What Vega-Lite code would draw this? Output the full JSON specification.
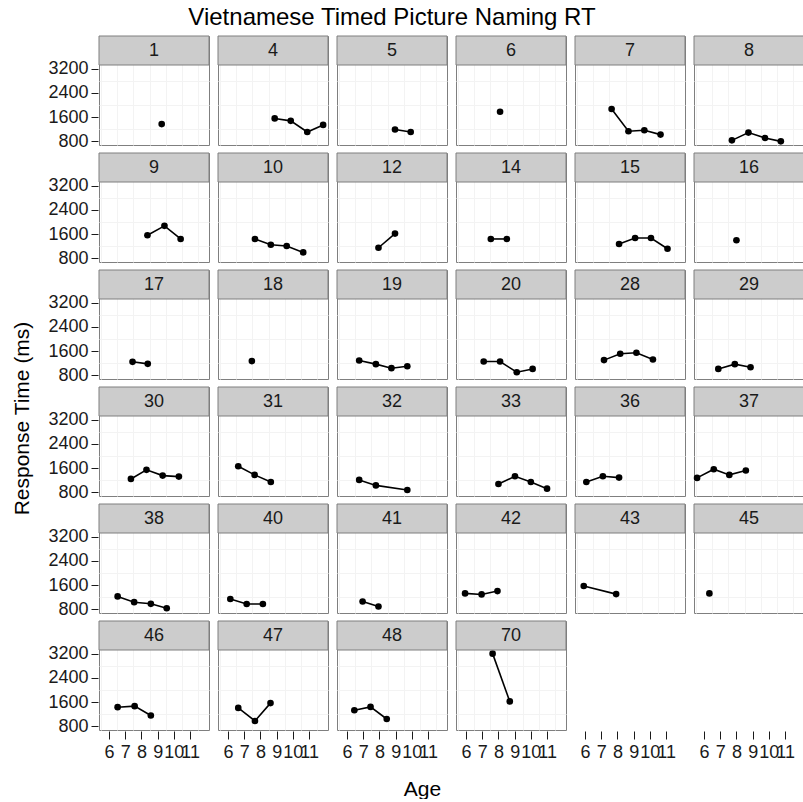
{
  "$schema": "https://vega.github.io/schema/vega-lite/v6.json",
  "padding": {"left": 11, "top": 6, "right": 0, "bottom": 0},
  "title": {"text": "Vietnamese Timed Picture Naming RT", "fontSize": 24, "font": "Liberation Sans", "fontWeight": "normal", "anchor": "middle", "frame": "bounds", "offset": 4, "dx": -16, "color": "#000000"},
  "data": {"values": [
    {"id": 1, "age": 9.25, "rt": 1370},
    {"id": 4, "age": 8.88, "rt": 1557}, {"id": 4, "age": 9.87, "rt": 1477}, {"id": 4, "age": 10.89, "rt": 1110}, {"id": 4, "age": 11.87, "rt": 1343},
    {"id": 5, "age": 8.96, "rt": 1190}, {"id": 5, "age": 9.93, "rt": 1110},
    {"id": 6, "age": 8.1, "rt": 1777},
    {"id": 7, "age": 7.64, "rt": 1867}, {"id": 7, "age": 8.68, "rt": 1133}, {"id": 7, "age": 9.66, "rt": 1167}, {"id": 7, "age": 10.66, "rt": 1023},
    {"id": 8, "age": 7.72, "rt": 833}, {"id": 8, "age": 8.74, "rt": 1090}, {"id": 8, "age": 9.76, "rt": 910}, {"id": 8, "age": 10.74, "rt": 800},
    {"id": 9, "age": 8.37, "rt": 1563}, {"id": 9, "age": 9.42, "rt": 1873}, {"id": 9, "age": 10.42, "rt": 1440},
    {"id": 10, "age": 7.66, "rt": 1440}, {"id": 10, "age": 8.64, "rt": 1250}, {"id": 10, "age": 9.62, "rt": 1207}, {"id": 10, "age": 10.64, "rt": 997},
    {"id": 12, "age": 7.94, "rt": 1150}, {"id": 12, "age": 8.96, "rt": 1617},
    {"id": 14, "age": 7.53, "rt": 1440}, {"id": 14, "age": 8.52, "rt": 1440},
    {"id": 15, "age": 8.1, "rt": 1273}, {"id": 15, "age": 9.09, "rt": 1473}, {"id": 15, "age": 10.07, "rt": 1473}, {"id": 15, "age": 11.09, "rt": 1117},
    {"id": 16, "age": 8.0, "rt": 1397},
    {"id": 17, "age": 7.45, "rt": 1247}, {"id": 17, "age": 8.39, "rt": 1180},
    {"id": 18, "age": 7.47, "rt": 1270},
    {"id": 19, "age": 6.75, "rt": 1290}, {"id": 19, "age": 7.78, "rt": 1170}, {"id": 19, "age": 8.74, "rt": 1037}, {"id": 19, "age": 9.72, "rt": 1100},
    {"id": 20, "age": 7.09, "rt": 1257}, {"id": 20, "age": 8.1, "rt": 1257}, {"id": 20, "age": 9.13, "rt": 903}, {"id": 20, "age": 10.11, "rt": 1013},
    {"id": 28, "age": 7.17, "rt": 1303}, {"id": 28, "age": 8.17, "rt": 1513}, {"id": 28, "age": 9.17, "rt": 1547}, {"id": 28, "age": 10.19, "rt": 1323},
    {"id": 29, "age": 6.88, "rt": 1013}, {"id": 29, "age": 7.9, "rt": 1170}, {"id": 29, "age": 8.87, "rt": 1067},
    {"id": 30, "age": 7.35, "rt": 1243}, {"id": 30, "age": 8.31, "rt": 1543}, {"id": 30, "age": 9.31, "rt": 1353}, {"id": 30, "age": 10.31, "rt": 1320},
    {"id": 31, "age": 6.63, "rt": 1663}, {"id": 31, "age": 7.64, "rt": 1377}, {"id": 31, "age": 8.64, "rt": 1143},
    {"id": 32, "age": 6.75, "rt": 1210}, {"id": 32, "age": 7.78, "rt": 1030}, {"id": 32, "age": 9.72, "rt": 877},
    {"id": 33, "age": 8.0, "rt": 1077}, {"id": 33, "age": 9.02, "rt": 1330}, {"id": 33, "age": 10.0, "rt": 1143}, {"id": 33, "age": 11.0, "rt": 923},
    {"id": 36, "age": 6.08, "rt": 1143}, {"id": 36, "age": 7.1, "rt": 1330}, {"id": 36, "age": 8.1, "rt": 1287},
    {"id": 37, "age": 5.57, "rt": 1277}, {"id": 37, "age": 6.6, "rt": 1563}, {"id": 37, "age": 7.56, "rt": 1377}, {"id": 37, "age": 8.58, "rt": 1520},
    {"id": 38, "age": 6.53, "rt": 1227}, {"id": 38, "age": 7.55, "rt": 1037}, {"id": 38, "age": 8.58, "rt": 983}, {"id": 38, "age": 9.56, "rt": 837},
    {"id": 40, "age": 6.14, "rt": 1143}, {"id": 40, "age": 7.15, "rt": 977}, {"id": 40, "age": 8.15, "rt": 977},
    {"id": 41, "age": 6.96, "rt": 1060}, {"id": 41, "age": 7.94, "rt": 893},
    {"id": 42, "age": 5.94, "rt": 1327}, {"id": 42, "age": 6.96, "rt": 1293}, {"id": 42, "age": 7.94, "rt": 1403},
    {"id": 43, "age": 5.92, "rt": 1570}, {"id": 43, "age": 7.92, "rt": 1303},
    {"id": 45, "age": 6.33, "rt": 1327},
    {"id": 46, "age": 6.53, "rt": 1433}, {"id": 46, "age": 7.58, "rt": 1467}, {"id": 46, "age": 8.58, "rt": 1157},
    {"id": 47, "age": 6.63, "rt": 1410}, {"id": 47, "age": 7.66, "rt": 977}, {"id": 47, "age": 8.62, "rt": 1567},
    {"id": 48, "age": 6.45, "rt": 1333}, {"id": 48, "age": 7.45, "rt": 1443}, {"id": 48, "age": 8.45, "rt": 1043},
    {"id": 70, "age": 7.64, "rt": 3200}, {"id": 70, "age": 8.7, "rt": 1623}
  ]},
  "spacing": 0,
  "vconcat": [
    {
      "spacing": 9,
      "hconcat": [
        {
          "width": 1,
          "height": 694,
          "view": {"stroke": null},
          "mark": {"type": "point", "opacity": 0},
          "encoding": {
            "y": {"field": "rt", "type": "quantitative",
              "axis": {"title": "Response Time (ms)", "labels": false, "ticks": false, "domain": false, "grid": false, "titlePadding": 2, "titleY": 382}}
          }
        },
        {
          "facet": {"field": "id", "type": "ordinal", "title": null,
            "header": {"labels": false, "title": null, "labelExpr": "''", "labelFontSize": 1, "labelPadding": 0}},
          "columns": 6,
          "spacing": {"row": 5, "column": 7},
          "spec": {
            "width": 110,
            "height": 109,
            "resolve": {"axis": {"x": "independent", "y": "independent"}},
            "layer": [
              {
                "mark": {"type": "circle", "opacity": 0},
                "encoding": {
                  "x": {"field": "age", "type": "quantitative",
                    "scale": {"domain": [5.38, 12.17], "nice": false, "zero": false},
                    "axis": {"title": null, "orient": "bottom", "values": [5.5, 6.5, 7.5, 8.5, 9.5, 10.5, 11.5], "labels": false, "ticks": false, "domain": false, "gridColor": "#f3f3f3", "gridWidth": 1}},
                  "y": {"field": "rt", "type": "quantitative",
                    "scale": {"domain": [680, 4277], "nice": false, "zero": false},
                    "axis": {"title": null, "orient": "left", "values": [1200, 2000, 2800], "labels": false, "ticks": false, "domain": false, "gridColor": "#f3f3f3", "gridWidth": 1}}
                }
              },
              {
                "mark": {"type": "line", "color": "#000000", "strokeWidth": 1.6},
                "encoding": {
                  "x": {"field": "age", "type": "quantitative",
                    "axis": {"title": null, "orient": "bottom", "values": [6, 7, 8, 9, 10, 11], "format": "d", "labelOverlap": false, "labelFlush": false, "labelPadding": 4, "tickSize": 8, "gridColor": "#e2e2e2", "gridWidth": 1.4}},
                  "y": {"field": "rt", "type": "quantitative",
                    "axis": {"title": null, "orient": "left", "values": [800, 1600, 2400, 3200], "format": "d", "labelOverlap": false, "labelPadding": 3, "gridColor": "#e2e2e2", "gridWidth": 1.4}}
                }
              },
              {
                "mark": {"type": "circle", "color": "#000000", "opacity": 1, "size": 44},
                "encoding": {
                  "x": {"field": "age", "type": "quantitative", "axis": null},
                  "y": {"field": "rt", "type": "quantitative", "axis": null}
                }
              },
              {
                "transform": [{"aggregate": [{"op": "count", "as": "n"}], "groupby": ["id"]}],
                "mark": {"type": "rect", "fill": "#cccccc", "stroke": "#7f7f7f", "strokeWidth": 1},
                "encoding": {
                  "x": {"datum": 5.38, "type": "quantitative", "axis": null},
                  "x2": {"datum": 12.17},
                  "y": {"datum": 3320, "type": "quantitative", "axis": null},
                  "y2": {"datum": 4277}
                }
              },
              {
                "transform": [{"aggregate": [{"op": "count", "as": "n"}], "groupby": ["id"]}],
                "mark": {"type": "text", "fontSize": 18, "font": "Liberation Sans", "color": "#1a1a1a", "baseline": "middle", "align": "center"},
                "encoding": {
                  "x": {"datum": 8.775, "type": "quantitative", "axis": null},
                  "y": {"datum": 3798, "type": "quantitative", "axis": null},
                  "text": {"field": "id", "type": "nominal"}
                }
              }
            ]
          }
        }
      ]
    },
    {
      "width": 706,
      "height": 1,
      "view": {"stroke": null},
      "mark": {"type": "point", "opacity": 0},
      "encoding": {
        "x": {"field": "age", "type": "quantitative",
          "axis": {"title": "Age", "labels": false, "ticks": false, "domain": false, "grid": false, "titlePadding": 13, "titleX": 388}}
      }
    }
  ],
  "config": {
    "font": "Liberation Sans",
    "view": {"stroke": "#7f7f7f", "strokeWidth": 1},
    "header": {"labels": false, "title": null, "labelFontSize": 1, "labelPadding": 0},
    "axis": {"domain": false, "labelFont": "Liberation Sans", "labelFontSize": 18, "labelColor": "#1a1a1a", "tickColor": "#1a1a1a", "tickSize": 7, "tickWidth": 1, "titleFont": "Liberation Sans", "titleFontSize": 21, "titleFontWeight": "normal", "titleColor": "#000000", "labelOverlap": false}
  }
}
